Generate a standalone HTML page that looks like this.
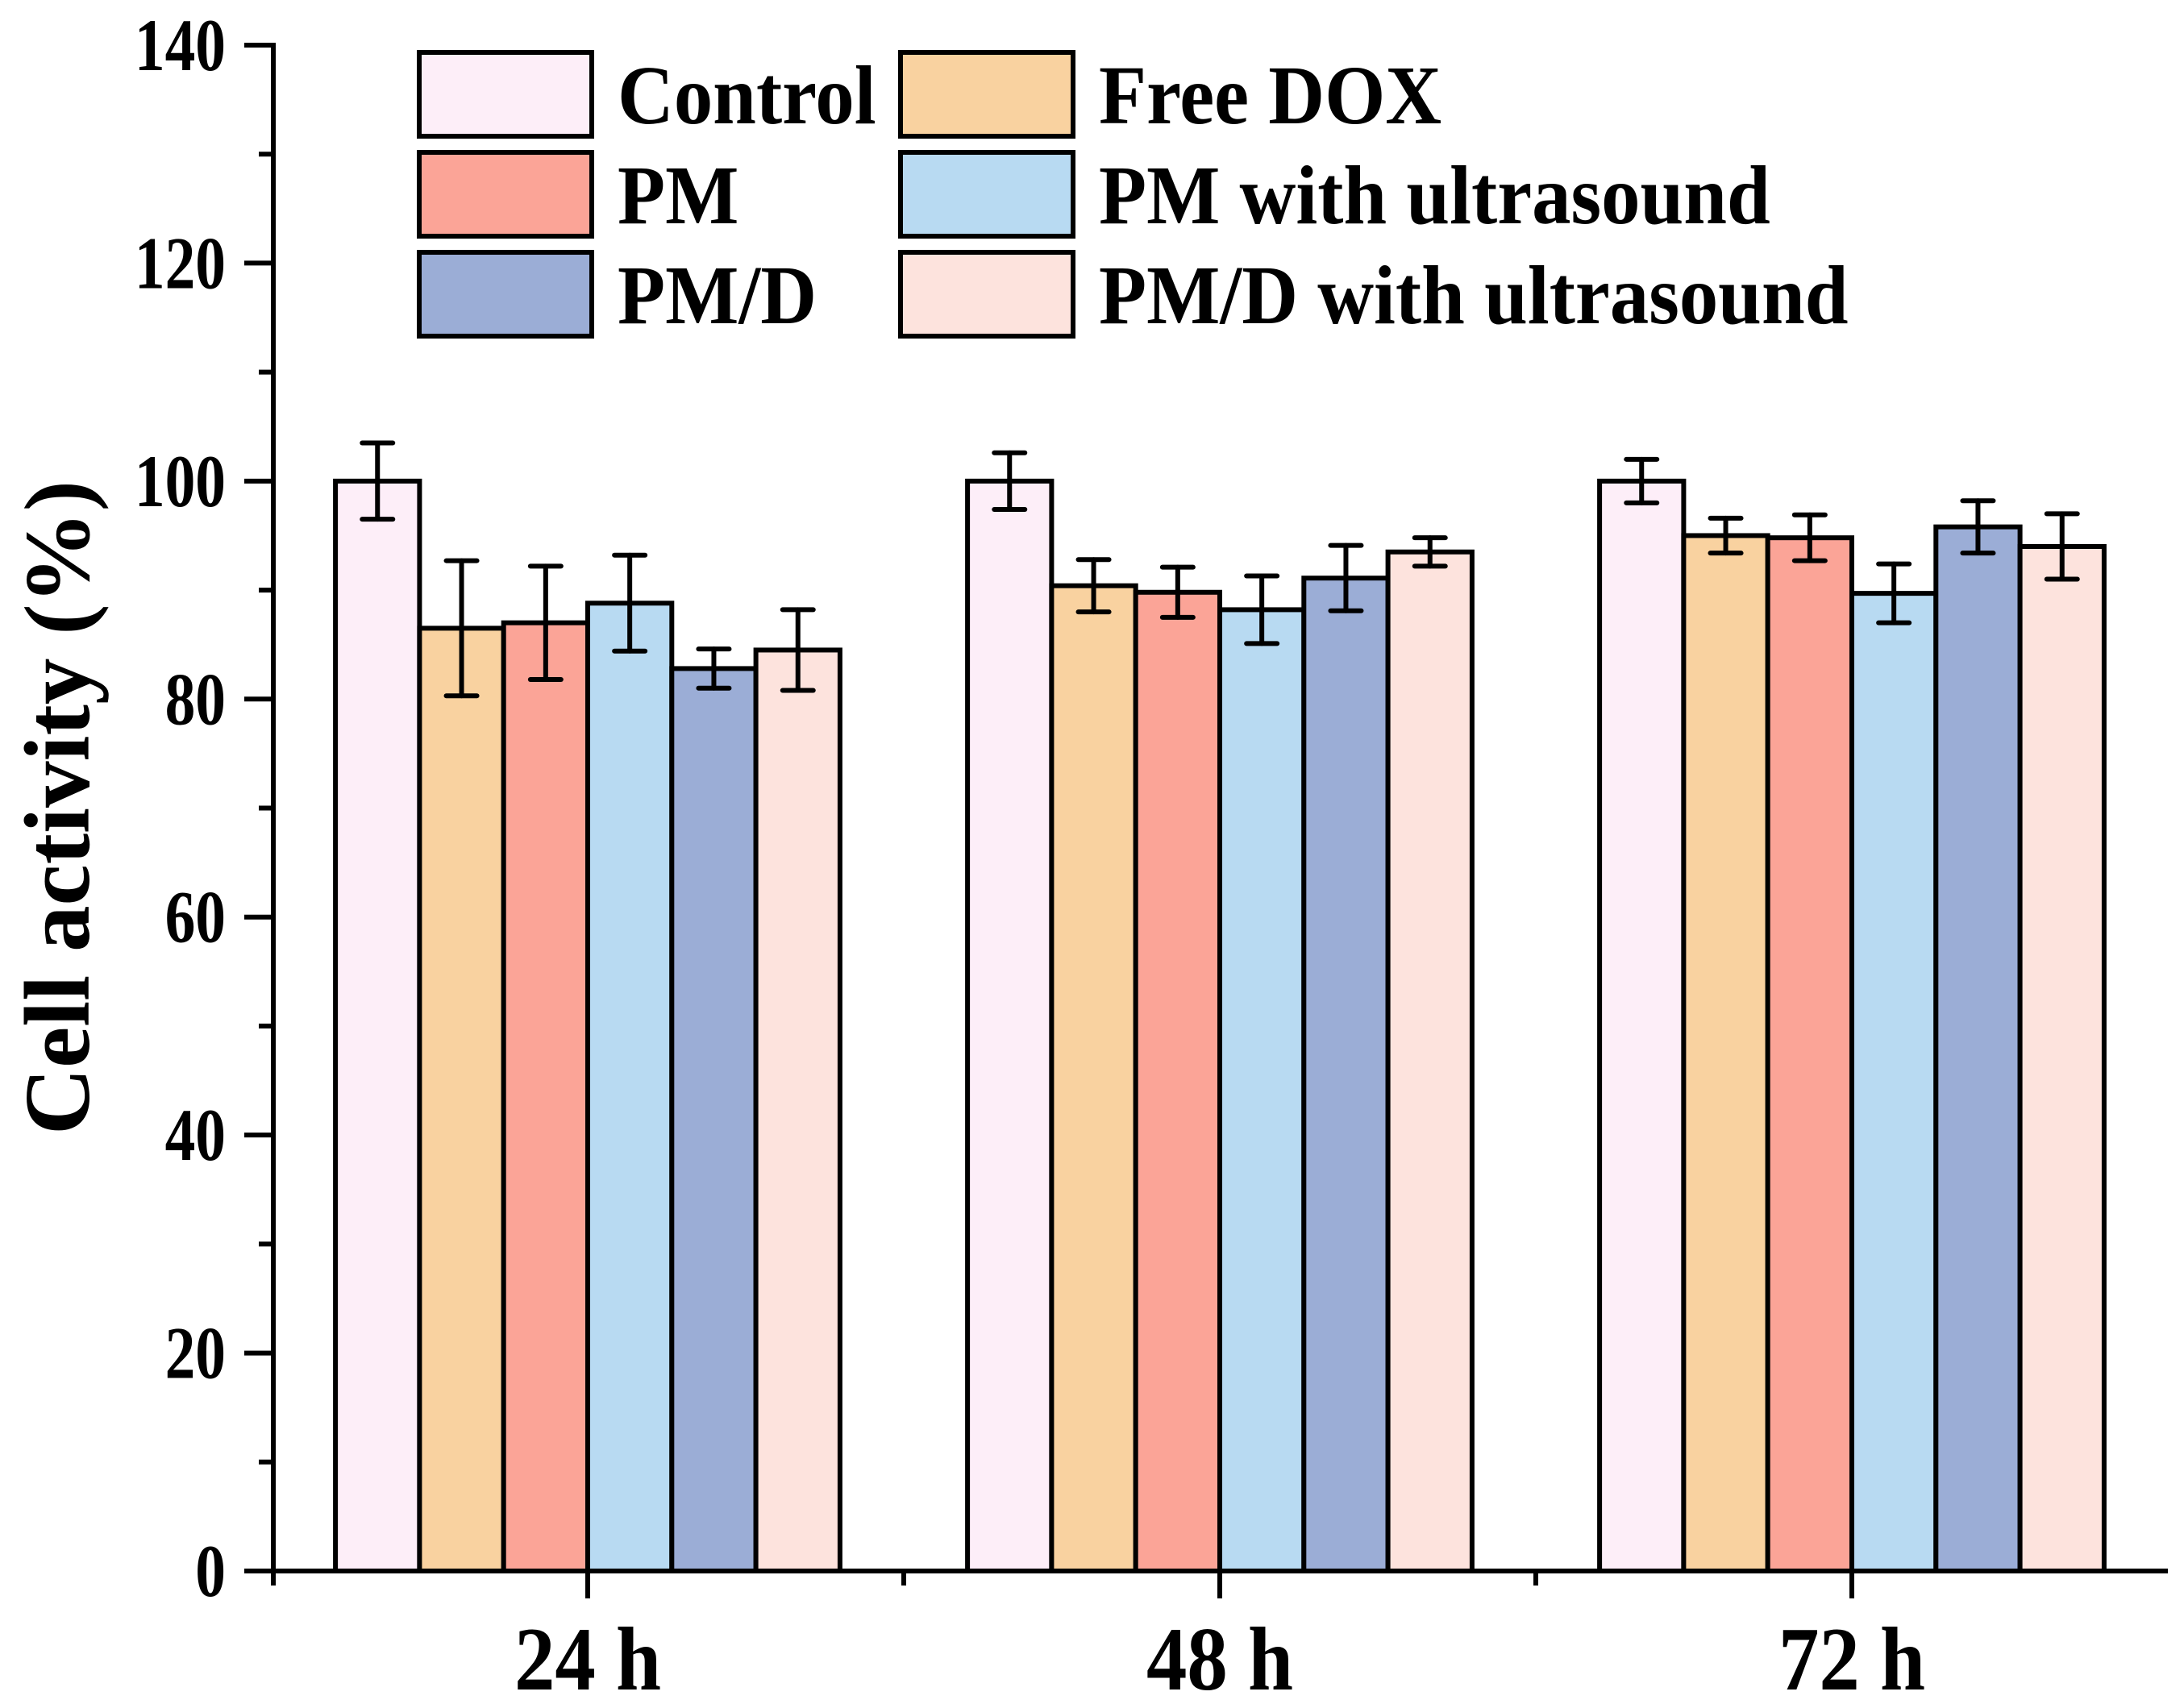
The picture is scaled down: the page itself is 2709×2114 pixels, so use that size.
<!DOCTYPE html>
<html><head><meta charset="utf-8"><style>
html,body{margin:0;padding:0;background:#fff;}
svg{display:block;font-family:"Liberation Serif",serif;font-weight:bold;}
</style></head><body>
<svg id="chart" width="2709" height="2114" viewBox="0 0 2709 2114" xmlns="http://www.w3.org/2000/svg">
<g id="plot"></g>
<g id="legend"></g>
<text transform="translate(110,1002) rotate(-90)" text-anchor="middle" font-size="116" textLength="812" lengthAdjust="spacingAndGlyphs">Cell activity (%)</text>
</svg>
<script>
const categories = ["24 h", "48 h", "72 h"];
const seriesNames = ["Control", "Free DOX", "PM", "PM with ultrasound", "PM/D", "PM/D with ultrasound"];
const seriesColors = ["#fdeef8", "#f9d2a0", "#fba497", "#b8daf2", "#9badd6", "#fde3dd"];
const control = [100, 100, 100];
const freeDox = [86.5, 90.4, 95.0];
const pm = [87.0, 89.8, 94.8];
const pmUs = [88.8, 88.2, 89.7];
const pmd = [82.8, 91.1, 95.8];
const pmdUs = [84.5, 93.5, 94.0];
const errControl = [3.5, 2.6, 2.0];
const errFreeDox = [6.2, 2.4, 1.6];
const errPm = [5.2, 2.3, 2.1];
const errPmUs = [4.4, 3.1, 2.7];
const errPmd = [1.8, 3.0, 2.4];
const errPmdUs = [3.7, 1.3, 3.0];
const yTicks = [0, 20, 40, 60, 80, 100, 120, 140];

const values = [control, freeDox, pm, pmUs, pmd, pmdUs];
const errs = [errControl, errFreeDox, errPm, errPmUs, errPmd, errPmdUs];
const NS = "http://www.w3.org/2000/svg";
const X0 = 339, X1 = 2689, Y0 = 1949, YTOP = 56;
const yMax = 140;
function yScale(v){ return Y0 - (v / yMax) * (Y0 - YTOP); }
const catW = 784, firstCenter = 729, barW = 104.3;
function xCenter(i){ return firstCenter + i * catW; }
function mk(tag, attrs, parent){ const e = document.createElementNS(NS, tag); for (const k in attrs) e.setAttribute(k, attrs[k]); parent.appendChild(e); return e; }
const plot = document.getElementById('plot');

for (let s = 0; s < values.length; s++) {
  for (let c = 0; c < categories.length; c++) {
    const v = values[s][c];
    const x = xCenter(c) - 3 * barW + s * barW;
    const r = mk('rect', {x: x, y: yScale(v), width: barW, height: Y0 - yScale(v), fill: seriesColors[s], stroke: '#000', 'stroke-width': 6}, plot);
    
    
  }
}
for (let s = 0; s < values.length; s++) {
  for (let c = 0; c < categories.length; c++) {
    const v = values[s][c], e = errs[s][c];
    const cx = xCenter(c) - 3 * barW + (s + 0.5) * barW;
    const g = mk('g', {stroke: '#000', 'stroke-width': 6, 'stroke-linecap': 'round'}, plot);
    
    
    mk('line', {x1: cx, x2: cx, y1: yScale(v + e), y2: yScale(v - e)}, g);
    mk('line', {x1: cx - 19, x2: cx + 19, y1: yScale(v + e), y2: yScale(v + e)}, g);
    mk('line', {x1: cx - 19, x2: cx + 19, y1: yScale(v - e), y2: yScale(v - e)}, g);
  }
}
const ax = mk('g', {stroke: '#000', 'stroke-width': 6}, plot);


mk('line', {x1: X0, x2: X0, y1: YTOP - 3, y2: Y0 + 18}, ax);
mk('line', {x1: X0 - 36, x2: X1, y1: Y0, y2: Y0}, ax);
for (let i = 0; i < yTicks.length; i++) {
  const y = yScale(yTicks[i]);
  mk('line', {x1: X0 - 36, x2: X0, y1: y, y2: y}, ax);
  if (i < yTicks.length - 1) { const ym = yScale(yTicks[i] + 10); mk('line', {x1: X0 - 18, x2: X0, y1: ym, y2: ym}, ax); }
  const t = mk('text', {transform: 'translate(280,' + (y + 31) + ') scale(0.82,1)', 'text-anchor': 'end', 'font-size': 92, stroke: 'none'}, plot);
  t.textContent = yTicks[i];
  
  
}
for (let c = 0; c < categories.length; c++) {
  const x = xCenter(c);
  mk('line', {x1: x, x2: x, y1: Y0, y2: Y0 + 34}, ax);
  if (c < categories.length - 1) { const xm = x + catW / 2; mk('line', {x1: xm, x2: xm, y1: Y0, y2: Y0 + 18}, ax); }
  const t = mk('text', {transform: 'translate(' + x + ',2096) scale(0.9,1)', 'text-anchor': 'middle', 'font-size': 112}, plot);
  t.textContent = categories[c];
  
  
}
const lg = document.getElementById('legend');
for (let i = 0; i < seriesNames.length; i++) {
  const col = i % 2, row = Math.floor(i / 2);
  const bx = col === 0 ? 520 : 1117, by = 65 + row * 124;
  const g = mk('g', {}, lg);
  
  
  mk('rect', {x: bx, y: by, width: 214, height: 104, fill: seriesColors[i], stroke: '#000', 'stroke-width': 6}, g);
  const t = mk('text', {transform: 'translate(' + (bx + 246) + ',' + (by + 88) + ') scale(0.93,1)', 'font-size': 104}, g);
  t.textContent = seriesNames[i];
}
</script>
</body></html>
